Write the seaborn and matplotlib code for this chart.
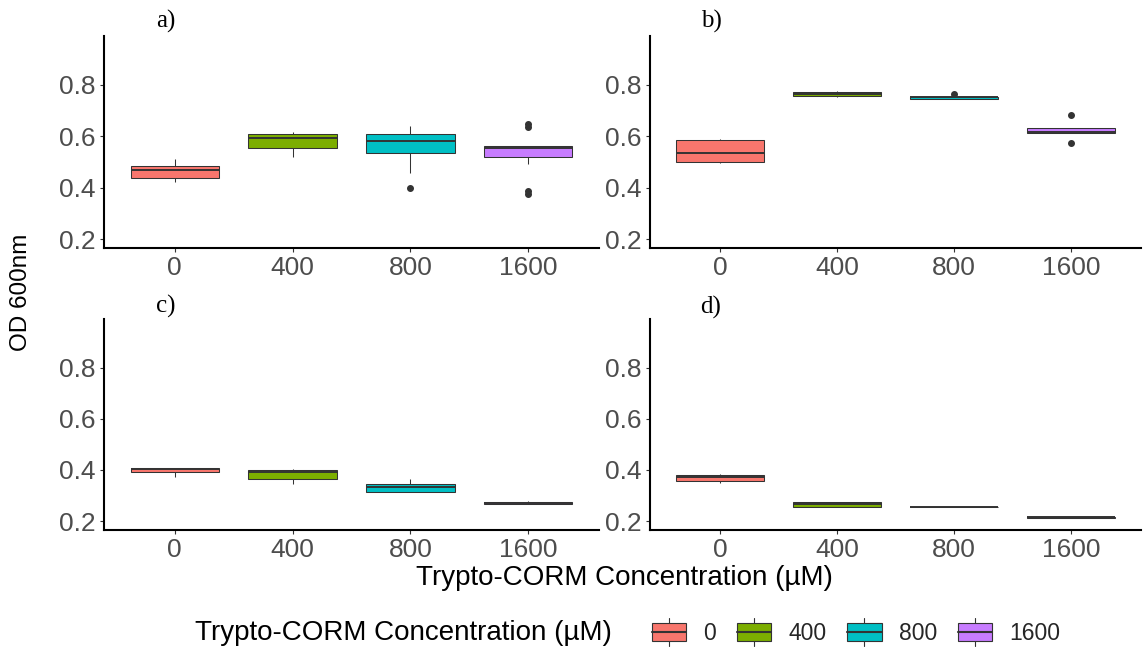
import matplotlib
matplotlib.use("Agg")
import matplotlib.pyplot as plt
from matplotlib.patches import Rectangle, Patch
from matplotlib.lines import Line2D
from matplotlib.legend_handler import HandlerBase
import seaborn as sns
import pandas as pd

# Treatment levels (µM) and their fill colours
concentrations = ["0", "400", "800", "1600"]
palette = ["#F8766D", "#7CAE00", "#00BFC4", "#C77CFF"]

# OD600 replicate readings per panel, one list per concentration
od_a = [
    [0.423, 0.439, 0.470, 0.486, 0.510],
    [0.521, 0.556, 0.595, 0.608, 0.618],
    [0.397, 0.456, 0.536, 0.560, 0.583, 0.595, 0.608, 0.620, 0.638],
    [0.375, 0.387, 0.491, 0.518, 0.530, 0.545, 0.555, 0.558, 0.560, 0.561, 0.561, 0.635, 0.647],
]
od_b = [
    [0.495, 0.501, 0.535, 0.584, 0.588],
    [0.751, 0.755, 0.764, 0.772, 0.777],
    [0.744, 0.744, 0.751, 0.752, 0.766],
    [0.573, 0.614, 0.617, 0.632, 0.682],
]
od_c = [
    [0.372, 0.390, 0.405, 0.408, 0.408],
    [0.346, 0.366, 0.390, 0.401, 0.405],
    [0.314, 0.314, 0.332, 0.345, 0.363],
    [0.265, 0.265, 0.271, 0.276, 0.280],
]
od_d = [
    [0.350, 0.358, 0.374, 0.379, 0.385],
    [0.254, 0.254, 0.265, 0.273, 0.276],
    [0.253, 0.253, 0.253, 0.253, 0.253],
    [0.213, 0.213, 0.214, 0.215, 0.215],
]
panels = [("a)", od_a), ("b)", od_b), ("c)", od_c), ("d)", od_d)]

y_ticks = [0.2, 0.4, 0.6, 0.8]
x_title = "Trypto-CORM Concentration (µM)"
y_title = "OD 600nm"

sns.set_theme(style="white")
plt.rcParams["font.family"] = ["Liberation Sans", "DejaVu Sans"]

W, H = 1144, 649
fig = plt.figure(figsize=(W / 100, H / 100), dpi=100)


def frac(left, top, right, bottom):
    return [left / W, 1 - bottom / H, (right - left) / W, (bottom - top) / H]


boxes = [
    frac(104, 36, 599, 248),
    frac(650, 36, 1141, 248),
    frac(104, 319, 599, 530),
    frac(650, 319, 1141, 530),
]
label_pos = [(166, 21), (711, 21), (166, 306), (711, 307)]

edge = "#333333"
for (tag, values), rect, (lx, ly) in zip(panels, boxes, label_pos):
    ax = fig.add_axes(rect)
    rows = [(c, v) for c, vals in zip(concentrations, values) for v in vals]
    df = pd.DataFrame(rows, columns=["conc", "od"])
    sns.boxplot(
        data=df, x="conc", y="od", hue="conc", order=concentrations,
        hue_order=concentrations, palette=palette, legend=False,
        width=0.75, dodge=False, ax=ax, linecolor=edge, linewidth=0.75,
        showcaps=False,
        medianprops=dict(color=edge, linewidth=1.4),
        flierprops=dict(marker="o", markersize=4, markerfacecolor=edge,
                        markeredgecolor=edge),
        saturation=1,
    )
    ax.set_xlim(-0.6, 3.6)
    ax.set_ylim(0.165, 0.99)
    ax.set_yticks(y_ticks)
    ax.set_yticklabels([f"{t:.1f}" for t in y_ticks])
    ax.set_xlabel("")
    ax.set_ylabel("")
    for s in ["top", "right"]:
        ax.spines[s].set_visible(False)
    for s in ["left", "bottom"]:
        ax.spines[s].set_color("black")
        ax.spines[s].set_linewidth(1.5)
    ax.tick_params(axis="both", which="both", direction="out", length=3,
                   width=0.8, color=edge, labelsize=19, labelcolor="#4D4D4D",
                   left=True, bottom=True, pad=3)
    fig.text(lx / W, 1 - ly / H, tag, ha="center", va="center",
             family=["Liberation Serif", "DejaVu Serif"], fontsize=18,
             color="black")

fig.text(624 / W, 1 - 578 / H, x_title, ha="center", va="center",
         fontsize=20, color="black")
fig.text(21 / W, 1 - 292 / H, y_title, ha="center", va="center",
         rotation=90, fontsize=17.5, color="black")


class BoxKey(HandlerBase):
    """Legend key drawn as a small boxplot glyph."""

    def create_artists(self, legend, orig_handle, xdescent, ydescent,
                       width, height, fontsize, trans):
        x0, y0 = -xdescent, -ydescent
        fc = orig_handle.get_facecolor()
        box = Rectangle((x0, y0 + 0.1 * height), width, 0.8 * height,
                        facecolor=fc, edgecolor=edge, linewidth=0.8,
                        transform=trans)
        xm = x0 + width / 2
        med = Line2D([x0, x0 + width], [y0 + height / 2] * 2, color=edge,
                     linewidth=1.5, transform=trans)
        w_lo = Line2D([xm, xm], [y0 - 0.15 * height, y0 + 0.1 * height],
                      color=edge, linewidth=0.8, transform=trans)
        w_hi = Line2D([xm, xm], [y0 + 0.9 * height, y0 + 1.15 * height],
                      color=edge, linewidth=0.8, transform=trans)
        return [box, med, w_lo, w_hi]


handles = [Patch(facecolor=c) for c in palette]
fig.text(195 / W, 1 - 633 / H, x_title, ha="left", va="center",
         fontsize=20, color="black")
fig.legend(handles, concentrations, handler_map={Patch: BoxKey()},
           loc="center left", bbox_to_anchor=(652 / W, 1 - 633 / H),
           ncol=4, frameon=False, fontsize=16.5, handlelength=1.5,
           handleheight=1.1, handletextpad=0.75, columnspacing=0.9,
           borderpad=0, borderaxespad=0)

fig.savefig("out.png", dpi=100)
